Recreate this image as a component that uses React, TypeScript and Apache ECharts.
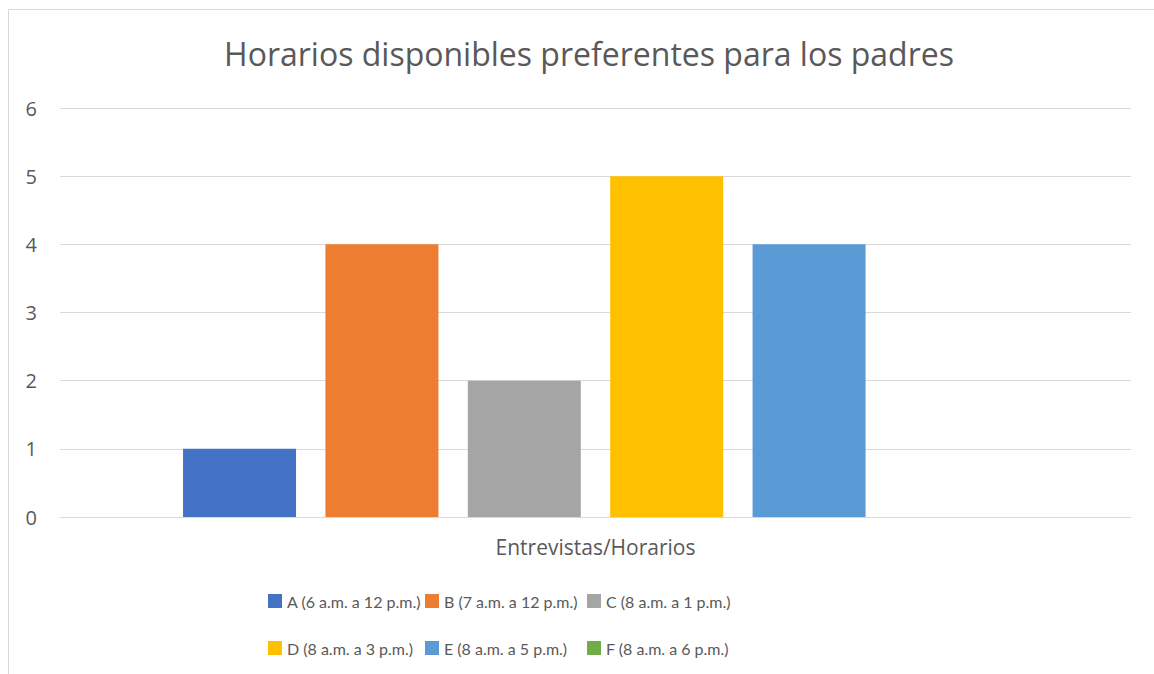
import React, { useEffect, useRef } from "react";
import * as echarts from "echarts";

const categories = ["Entrevistas/Horarios"];
const seriesNames = [
  "A (6 a.m. a 12 p.m.)",
  "B (7 a.m. a 12 p.m.)",
  "C (8 a.m. a 1 p.m.)",
  "D (8 a.m. a 3 p.m.)",
  "E (8 a.m. a 5 p.m.)",
  "F (8 a.m. a 6 p.m.)",
];
const valuesA = [1];
const valuesB = [4];
const valuesC = [2];
const valuesD = [5];
const valuesE = [4];
const valuesF = [0];
const seriesValues = [valuesA, valuesB, valuesC, valuesD, valuesE, valuesF];
const colors = ["#4472C4", "#ED7D31", "#A5A5A5", "#FFC000", "#5B9BD5", "#70AD47"];
const titleText = "Horarios disponibles preferentes para los padres";

const FONT = "'Open Sans', sans-serif";
const LEGEND_FONT = "Lato, 'Open Sans', sans-serif";
const legendPos = [
  { left: 268, top: 593 },
  { left: 425, top: 593 },
  { left: 587, top: 593 },
  { left: 268, top: 640 },
  { left: 425, top: 640 },
  { left: 587, top: 640 },
];

export default function App() {
  const ref = useRef<HTMLDivElement>(null);
  useEffect(() => {
    if (!ref.current) return;
    const chart = echarts.init(ref.current, null, { renderer: "svg" });
    chart.setOption({
      animation: false,
      backgroundColor: "#ffffff",
      title: {
        text: titleText,
        left: 584,
        textAlign: "center",
        top: 32,
        textStyle: { fontFamily: FONT, fontSize: 32, fontWeight: "normal", color: "#595959" },
      },
      legend: seriesNames.map((n, i) => ({
        data: [n],
        left: legendPos[i].left,
        top: legendPos[i].top,
        icon: "rect",
        itemWidth: 14,
        itemHeight: 14,
        padding: 0,
        selectedMode: false,
        textStyle: { fontFamily: LEGEND_FONT, fontSize: 16, color: "#595959" },
      })),
      grid: { left: 60, right: 23, top: 108, bottom: 157 },
      xAxis: {
        type: "category",
        data: categories,
        axisLine: { lineStyle: { color: "#d9d9d9", width: 1 } },
        axisTick: { show: false },
        axisLabel: { fontFamily: FONT, fontSize: 21, color: "#595959", margin: 19 },
      },
      yAxis: {
        type: "value",
        min: 0,
        max: 6,
        interval: 1,
        axisLine: { show: false },
        axisTick: { show: false },
        axisLabel: { fontFamily: FONT, fontSize: 20, color: "#595959", margin: 23 },
        splitLine: { lineStyle: { color: "#d9d9d9", width: 1 } },
      },
      graphic: [
        {
          type: "rect",
          shape: { x: 8.5, y: 9.5, width: 1200, height: 700 },
          style: { fill: "none", stroke: "#d9d9d9", lineWidth: 1 },
          silent: true,
        },
      ],
      series: seriesNames.map((n, i) => ({
        name: n,
        type: "bar",
        data: seriesValues[i],
        barWidth: 113,
        barGap: "26%",
        itemStyle: { color: colors[i] },
      })),
    });
    return () => chart.dispose();
  }, []);
  return <div ref={ref} style={{ position: "fixed", left: 0, top: 0, width: 1154, height: 674 }} />;
}
